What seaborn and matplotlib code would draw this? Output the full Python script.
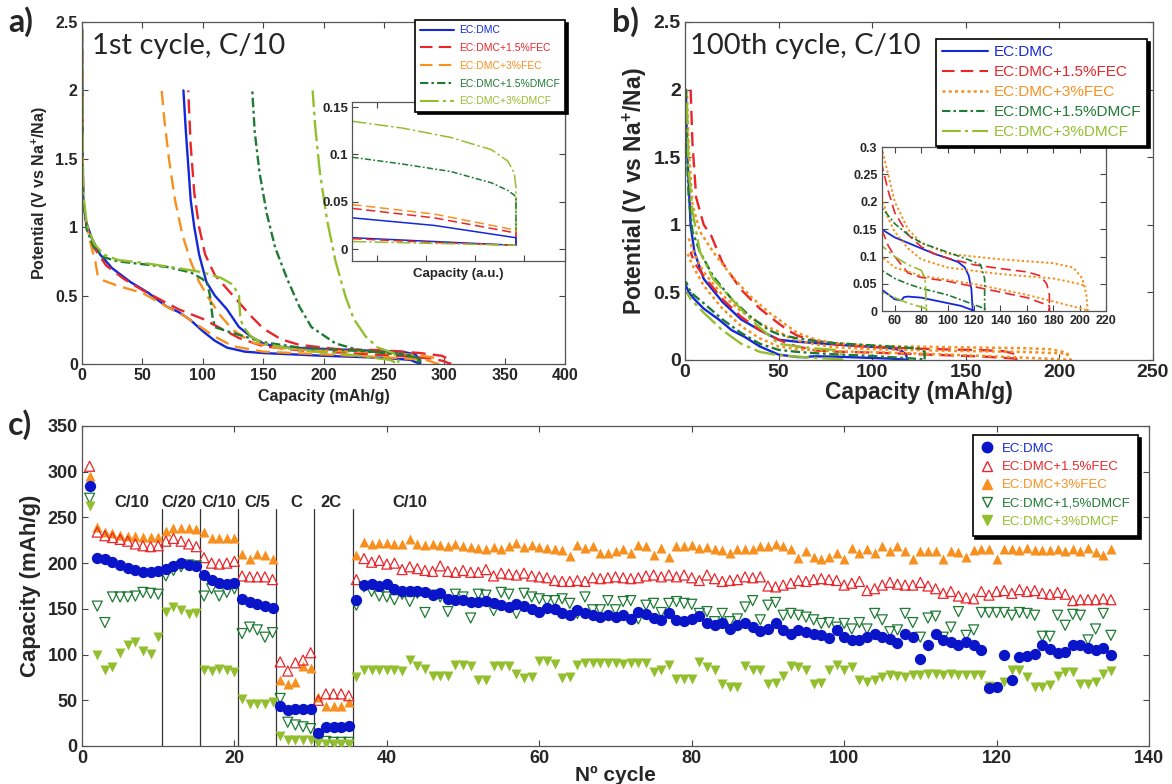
import matplotlib
matplotlib.use("Agg")
import matplotlib.pyplot as plt
from matplotlib import font_manager
from matplotlib.lines import Line2D
import seaborn as sns

sns.set_style("ticks")
installed = {f.name for f in font_manager.fontManager.ttflist}
narrow = "Liberation Sans Narrow" if "Liberation Sans Narrow" in installed else "Liberation Sans"
plt.rcParams["font.family"] = ["Liberation Sans", "DejaVu Sans"]
plt.rcParams["mathtext.fontset"] = "custom"
plt.rcParams["mathtext.bf"] = "Liberation Sans:bold"
plt.rcParams["mathtext.rm"] = "Liberation Sans"

# ---- labels / colours
names = ["EC:DMC", "EC:DMC+1.5%FEC", "EC:DMC+3%FEC", "EC:DMC+1.5%DMCF", "EC:DMC+3%DMCF"]
names_c = ["EC:DMC", "EC:DMC+1.5%FEC", "EC:DMC+3%FEC", "EC:DMC+1,5%DMCF", "EC:DMC+3%DMCF"]
colors = ["#1428d8", "#e8262b", "#f7901e", "#1f7a34", "#93bf2f"]

# ---- panel a: 1st cycle (capacity mAh/g, potential V)
a_dmc_cap = [0, 0.5, 1, 3, 8, 15, 25, 40, 55, 70, 80, 90, 100, 110, 120, 135, 150, 200, 250, 272, 280,
             280, 276, 265, 230, 200, 170, 160, 150, 140, 130, 120, 110, 103, 97, 93, 90, 88, 86, 84]
a_dmc_v = [2.45, 1.6, 1.2, 1.05, 0.92, 0.8, 0.7, 0.6, 0.52, 0.42, 0.38, 0.32, 0.24, 0.17, 0.12, 0.09, 0.08, 0.06, 0.045, 0.03, 0.0,
           0.03, 0.07, 0.09, 0.1, 0.11, 0.12, 0.13, 0.15, 0.2, 0.27, 0.4, 0.5, 0.6, 0.8, 1.0, 1.2, 1.45, 1.7, 2.0]
a_fec15_cap = [0, 0.5, 1, 4, 10, 20, 35, 50, 65, 80, 100, 115, 130, 150, 180, 220, 260, 290, 300, 305,
               305, 298, 280, 250, 210, 180, 165, 150, 140, 130, 120, 110, 102, 97, 93, 90, 88]
a_fec15_v = [2.45, 1.6, 1.2, 1.0, 0.85, 0.72, 0.62, 0.54, 0.47, 0.4, 0.33, 0.26, 0.19, 0.13, 0.1, 0.08, 0.06, 0.04, 0.02, 0.0,
             0.03, 0.06, 0.08, 0.1, 0.11, 0.14, 0.18, 0.26, 0.35, 0.45, 0.55, 0.65, 0.8, 1.0, 1.25, 1.6, 2.0]
a_fec3_cap = [0, 0.5, 1, 4, 8, 11, 13, 18, 30, 50, 70, 85, 100, 110, 125, 150, 200, 250, 285, 295,
              295, 290, 270, 230, 190, 160, 140, 125, 115, 105, 97, 90, 83, 77, 72, 68, 66]
a_fec3_v = [2.45, 1.6, 1.2, 1.0, 0.85, 0.75, 0.65, 0.61, 0.57, 0.52, 0.42, 0.35, 0.26, 0.2, 0.13, 0.09, 0.07, 0.05, 0.03, 0.0,
            0.02, 0.05, 0.07, 0.09, 0.1, 0.12, 0.16, 0.25, 0.35, 0.48, 0.6, 0.75, 0.95, 1.2, 1.5, 1.8, 2.0]
a_dmcf15_cap = [0, 0.5, 1, 4, 10, 18, 30, 50, 70, 90, 100, 104, 106, 108, 110, 120, 135, 150, 180, 220, 260, 275, 280,
                280, 275, 250, 230, 210, 190, 180, 170, 160, 153, 147, 143, 141]
a_dmcf15_v = [2.45, 1.5, 1.2, 0.98, 0.85, 0.78, 0.75, 0.73, 0.71, 0.67, 0.62, 0.58, 0.5, 0.35, 0.27, 0.24, 0.2, 0.16, 0.12, 0.1, 0.08, 0.05, 0.0,
              0.03, 0.06, 0.08, 0.1, 0.15, 0.27, 0.42, 0.62, 0.85, 1.1, 1.4, 1.7, 2.0]
a_dmcf3_cap = [0, 0.5, 1, 4, 10, 18, 30, 50, 80, 100, 115, 125, 130, 131, 133, 140, 150, 180, 220, 255, 262,
               262, 258, 245, 235, 225, 218, 210, 203, 197, 193, 191]
a_dmcf3_v = [2.45, 1.6, 1.25, 1.02, 0.88, 0.8, 0.76, 0.74, 0.7, 0.67, 0.63, 0.58, 0.5, 0.35, 0.28, 0.2, 0.15, 0.1, 0.07, 0.03, 0.0,
             0.03, 0.08, 0.12, 0.2, 0.33, 0.5, 0.75, 1.05, 1.4, 1.75, 2.0]

# inset of panel a (arbitrary capacity units)
ia_x = [0, 0.3, 0.6, 0.85, 0.95, 0.99, 1.0, 1.0]
ia_dmcf3 = [0.135, 0.128, 0.118, 0.105, 0.093, 0.08, 0.065, 0.005]
ia_dmcf15 = [0.097, 0.09, 0.082, 0.07, 0.062, 0.057, 0.053, 0.005]
ia_x2 = [0, 0.5, 1.0, 1.0]
ia_fec3 = [0.047, 0.037, 0.02, 0.005]
ia_fec15 = [0.043, 0.033, 0.017, 0.005]
ia_dmc = [0.033, 0.025, 0.012, 0.004]
ia_low_x = [0, 0.5, 1.0]
ia_low_dmc = [0.012, 0.008, 0.004]
ia_low_fec = [0.011, 0.007, 0.004]
ia_low_dmcf = [0.008, 0.006, 0.004]

# ---- panel b: 100th cycle
b_dmc_cap = [0.5, 1, 2, 3, 5, 10, 20, 30, 40, 50, 60, 70, 80, 90, 100, 108, 113, 116, 118, 119,
             119, 110, 100, 90, 80, 70, 67, 65, 60, 50, 40, 32, 25, 18, 10, 5, 2, 0.5]
b_dmc_v = [2.0, 1.6, 1.3, 1.0, 0.8, 0.6, 0.43, 0.3, 0.22, 0.15, 0.135, 0.125, 0.115, 0.105, 0.097, 0.09, 0.08, 0.065, 0.04, 0.0,
           0.002, 0.01, 0.015, 0.02, 0.025, 0.027, 0.026, 0.02, 0.022, 0.04, 0.1, 0.17, 0.22, 0.3, 0.38, 0.45, 0.5, 0.55]
b_fec15_cap = [3, 4, 6, 10, 14, 20, 30, 40, 50, 55, 60, 70, 80, 90, 100, 120, 140, 160, 170, 175, 177, 177,
               177, 160, 130, 100, 80, 70, 60, 55, 50, 40, 30, 20, 10, 5, 3]
b_fec15_v = [2.0, 1.6, 1.2, 1.0, 0.92, 0.72, 0.52, 0.38, 0.27, 0.22, 0.18, 0.14, 0.118, 0.105, 0.097, 0.085, 0.078, 0.072, 0.065, 0.05, 0.03, 0.0,
             0.01, 0.025, 0.04, 0.055, 0.062, 0.07, 0.1, 0.12, 0.15, 0.22, 0.32, 0.45, 0.62, 0.72, 0.8]
b_fec3_cap = [1, 2, 4, 8, 15, 25, 35, 45, 52, 60, 70, 80, 100, 140, 180, 195, 202, 205, 206,
              206, 180, 160, 120, 80, 60, 50, 40, 30, 20, 10, 4, 1]
b_fec3_v = [2.0, 1.55, 1.15, 0.95, 0.8, 0.62, 0.47, 0.35, 0.28, 0.2, 0.15, 0.125, 0.105, 0.095, 0.088, 0.08, 0.06, 0.03, 0.0,
            0.002, 0.018, 0.03, 0.05, 0.065, 0.08, 0.1, 0.16, 0.25, 0.38, 0.55, 0.7, 0.8]
b_fec3_mid_cap = [2, 5, 10, 20, 30, 40, 50, 55, 60, 70, 80, 100, 140, 180, 200, 205]
b_fec3_mid_v = [0.9, 0.78, 0.65, 0.48, 0.36, 0.27, 0.21, 0.17, 0.145, 0.115, 0.095, 0.08, 0.068, 0.06, 0.05, 0.045]
b_dmcf15_cap = [0.5, 1, 2, 4, 8, 15, 25, 35, 45, 50, 60, 70, 80, 100, 115, 125, 128, 128,
                128, 100, 80, 70, 60, 50, 40, 30, 20, 10, 3, 0.5]
b_dmcf15_v = [2.0, 1.5, 1.2, 0.95, 0.8, 0.62, 0.45, 0.32, 0.22, 0.19, 0.16, 0.14, 0.125, 0.108, 0.095, 0.085, 0.06, 0.0,
              0.005, 0.03, 0.042, 0.05, 0.06, 0.075, 0.12, 0.2, 0.3, 0.42, 0.5, 0.58]
b_dmcf3_cap = [1, 2, 4, 8, 15, 25, 35, 45, 50, 60, 70, 80, 83, 84,
               84, 70, 60, 50, 40, 30, 20, 10, 3, 1]
b_dmcf3_v = [1.9, 1.4, 1.1, 0.8, 0.6, 0.45, 0.3, 0.18, 0.12, 0.1, 0.085, 0.075, 0.06, 0.0,
             0.005, 0.015, 0.025, 0.035, 0.06, 0.12, 0.22, 0.35, 0.45, 0.5]

# ---- panel c: capacity vs cycle number
cycles = list(range(1, 136))
cap_dmc = [284,
           206, 205, 201, 198, 195, 192, 190, 190, 191,
           194, 197, 200, 198, 197,
           187, 182, 178, 177, 178,
           161, 158, 155, 153, 151,
           44, 39, 40, 40, 40,
           14, 21, 21, 21, 22,
           160, 176, 177, 175, 177, 172, 170, 170, 169, 168, 165, 167, 161, 160, 160, 158, 157, 159, 156, 154,
           152, 155, 153, 150, 147, 151, 150, 145, 143, 149, 145,
           143, 141, 143, 141, 143, 139, 147, 144, 140, 138, 145, 138, 137, 139, 142, 134, 132, 135, 128, 132,
           134, 130, 126, 128, 134, 127, 123, 127, 125, 123, 121, 118, 127,
           119, 116, 116, 119, 123, 119, 117, 113, 123, 119, 95, 110, 123, 116, 114, 111, 114, 110, 105, 63,
           65, 99, 72, 97, 98, 101, 110, 106, 102, 103, 110, 111, 107, 105, 107, 100]
cap_fec15 = [306,
             234, 230, 228, 226, 224, 221, 219, 218, 219,
             224, 227, 224, 221, 218,
             206, 200, 199, 200, 202,
             186, 185, 185, 185, 182,
             92, 82, 91, 94, 102,
             50, 57, 57, 57, 55,
             182, 205, 201, 203, 199, 200, 193, 196, 194, 192, 191, 197, 191, 190, 192, 190, 190, 193, 186, 189,
             188, 187, 189, 186, 185, 184, 181, 180, 180, 181, 180,
             184, 183, 184, 185, 184, 183, 184, 186, 187, 185, 187, 185, 187, 184, 181, 187, 183, 180, 181, 182,
             185, 184, 185, 175, 174, 176, 178, 181, 180, 182, 183, 182, 181,
             176, 178, 180, 170, 172, 176, 179, 177, 176, 176, 179, 175, 172, 167, 169, 164, 162, 161, 169, 165,
             169, 170, 167, 171, 169, 170, 167, 166, 168, 166, 159, 160, 160, 160, 161, 160]
cap_fec3 = [295,
            239, 234, 233, 231, 230, 230, 229, 229, 229,
            235, 238, 238, 238, 237,
            234, 227, 228, 228, 228,
            210, 205, 210, 209, 204,
            72, 68, 70, 87, 85,
            54, 44, 44, 44, 48,
            209, 223, 221, 222, 222, 221, 221, 226, 221, 220, 221, 220, 219, 221, 219, 218, 217, 216, 218, 215,
            219, 222, 218, 220, 218, 217, 215, 214, 208, 220, 217,
            219, 211, 211, 213, 216, 211, 220, 219, 209, 217, 207, 219, 219, 220, 217, 218, 216, 214, 211, 215,
            215, 216, 219, 219, 221, 219, 216, 206, 213, 207, 204,
            207, 211, 205, 217, 211, 216, 211, 219, 213, 219, 213, 204, 213, 213, 213, 204, 213, 212, 207, 214,
            215, 216, 205, 216, 216, 214, 217, 214, 214, 214, 215, 213, 216, 213, 217, 212, 209, 215]
cap_dmcf15 = [271,
              153, 135, 163, 163, 163, 164, 168, 167, 166,
              186, 192, 196, 198, 197,
              164, 172, 164, 168, 172,
              123, 130, 127, 119, 124,
              52, 26, 23, 21, 19,
              5, 5, 4, 4, 4,
              154, 174, 169, 164, 163, 160, 166, 158, 167, 146, 165, 163, 147, 166, 163, 140, 166, 165, 148, 168,
              166, 145, 167, 163, 161, 159, 159, 161, 156, 145, 163,
              149, 149, 159, 149, 158, 159, 139, 154, 156, 146, 156, 158, 156, 155, 145, 147, 136, 145, 136, 139,
              152, 159, 138, 154, 157, 143, 145, 143, 141, 138, 134, 135, 130,
              134, 128, 135, 128, 145, 138, 125, 127, 145, 135, 119, 140, 142, 119, 130, 147, 121, 127, 146, 146,
              146, 146, 143, 146, 145, 143, 120, 120, 143, 132, 144, 143, 116, 128, 145, 121]
cap_dmcf3 = [262,
             99, 83, 86, 102, 111, 114, 104, 101, 119,
             147, 152, 149, 144, 145,
             83, 82, 84, 83, 81,
             51, 46, 46, 46, 48,
             11, 7, 7, 7, 7,
             3, 2, 2, 2, 2,
             75, 83, 83, 83, 83, 83, 82, 94, 87, 84, 77, 77, 77, 89, 89, 88, 72, 72, 87, 88,
             87, 79, 74, 75, 93, 93, 90, 74, 76, 89, 91,
             91, 91, 91, 91, 90, 91, 91, 91, 81, 83, 89, 73, 73, 73, 92, 86, 83, 68, 65, 65,
             88, 83, 83, 68, 69, 77, 88, 86, 83, 68, 69, 83, 89,
             83, 86, 72, 70, 72, 75, 78, 77, 76, 78, 78, 79, 79, 78, 79, 78, 78, 78, 78, 66,
             65, 70, 83, 83, 75, 65, 65, 67, 77, 81, 81, 68, 68, 70, 79, 82]
rate_bounds = [10.5, 15.5, 20.5, 25.5, 30.5, 35.5]
rate_labels = ["C/10", "C/20", "C/10", "C/5", "C", "2C", "C/10"]
rate_label_x = [6.6, 12.7, 17.9, 23.0, 28.1, 32.7, 43.0]

W, H = 1172, 784
fig = plt.figure(figsize=(W / 100, H / 100), dpi=100)


def box(x0, y0, x1, y1):
    # pixel box (top-left origin) -> figure fraction
    return [x0 / W, 1 - y1 / H, (x1 - x0) / W, (y1 - y0) / H]


def style_axes(ax, size, fam=None):
    ax.tick_params(direction="in", top=True, right=True, length=4, width=0.8, color="#444444",
                   labelsize=size, pad=3)
    for s in ax.spines.values():
        s.set_color("#555555")
        s.set_linewidth(0.9)
    for lab in ax.get_xticklabels() + ax.get_yticklabels():
        lab.set_fontweight("bold")
        lab.set_fontfamily(fam or narrow)


def draw(ax, xs, ys, color, ls, lw=1.5):
    sns.lineplot(x=xs, y=ys, sort=False, estimator=None, color=color, linestyle=ls,
                 linewidth=lw, ax=ax, legend=False)


dash = (0, (6, 3))
dot = (0, (1.2, 1.3))
dashdot = (0, (4, 1.5, 1.2, 1.5))
longdashdot = (0, (9, 2, 1.5, 2))

# ---------------- panel a
ax_a = fig.add_axes(box(82, 22, 565, 364))
draw(ax_a, a_dmc_cap, a_dmc_v, colors[0], "-", 1.7)
draw(ax_a, a_fec15_cap, a_fec15_v, colors[1], dash, 1.7)
draw(ax_a, a_fec3_cap, a_fec3_v, colors[2], dash, 1.7)
draw(ax_a, a_dmcf15_cap, a_dmcf15_v, colors[3], dashdot, 1.7)
draw(ax_a, a_dmcf3_cap, a_dmcf3_v, colors[4], longdashdot, 1.7)
ax_a.set_xlim(0, 400)
ax_a.set_ylim(0, 2.5)
ax_a.set_xticks(range(0, 401, 50))
ax_a.set_yticks([0, 0.5, 1, 1.5, 2, 2.5])
ax_a.set_yticklabels(["0", "0.5", "1", "1.5", "2", "2.5"])
style_axes(ax_a, 11.5)
ax_a.set_xlabel("Capacity (mAh/g)", fontsize=11.5, fontweight="bold", labelpad=4)
ax_a.set_ylabel(r"Potential (V vs Na$^{\mathbf{+}}$/Na)", fontsize=11.5, fontweight="bold", labelpad=4)
ax_a.text(0.02, 0.93, "1st cycle, C/10", transform=ax_a.transAxes, fontsize=21, family="Lato",
          va="center", ha="left")

ia = ax_a.inset_axes([0.56, 0.30, 0.44, 0.465])
draw(ia, ia_x, ia_dmcf3, colors[4], longdashdot, 1.1)
draw(ia, ia_x, ia_dmcf15, colors[3], dashdot, 1.1)
draw(ia, ia_x2, ia_fec3, colors[2], dash, 1.1)
draw(ia, ia_x2, ia_fec15, colors[1], dash, 1.1)
draw(ia, ia_x2, ia_dmc, colors[0], "-", 1.1)
draw(ia, ia_low_x, ia_low_dmc, colors[0], "-", 1.1)
draw(ia, ia_low_x, ia_low_fec, colors[1], dash, 1.1)
draw(ia, ia_low_x, ia_low_dmcf, colors[4], longdashdot, 1.1)
ia.set_xlim(0, 1.3)
ia.set_ylim(-0.013, 0.155)
ia.set_xticks([0.15, 0.45, 0.75, 1.05])
ia.set_xticklabels([])
ia.set_yticks([0, 0.05, 0.1, 0.15])
ia.set_yticklabels(["0", "0.05", "0.1", "0.15"])
style_axes(ia, 9.5)
ia.set_xlabel("Capacity (a.u.)", fontsize=9.5, fontweight="bold", labelpad=2)

handles_ab = [Line2D([], [], color=colors[0], ls="-", lw=1.5),
              Line2D([], [], color=colors[1], ls=dash, lw=1.5),
              Line2D([], [], color=colors[2], ls=dash, lw=1.5),
              Line2D([], [], color=colors[3], ls=dashdot, lw=1.5),
              Line2D([], [], color=colors[4], ls=longdashdot, lw=1.5)]


def legend(ax, handles, labels, anchor, size, **kw):
    leg = ax.legend(handles, labels, loc="upper right", bbox_to_anchor=anchor, fontsize=size,
                    frameon=True, fancybox=False, shadow={"color": "black", "alpha": 1.0},
                    borderaxespad=0, **kw)
    leg.get_frame().set_edgecolor("black")
    leg.get_frame().set_linewidth(1.2)
    leg.set_zorder(20)
    for t, c in zip(leg.get_texts(), colors):
        t.set_color(c)
    return leg


legend(ax_a, handles_ab, names, (1.0, 1.006), 7.5, handlelength=3.2, labelspacing=0.75,
       handletextpad=0.5, borderpad=0.5)

# ---------------- panel b
ax_b = fig.add_axes(box(685, 22, 1153, 360))
handles_b = list(handles_ab)
handles_b[2] = Line2D([], [], color=colors[2], ls=dot, lw=1.8)
draw(ax_b, b_dmc_cap, b_dmc_v, colors[0], "-", 1.7)
draw(ax_b, b_fec15_cap, b_fec15_v, colors[1], dash, 1.7)
draw(ax_b, b_fec3_cap, b_fec3_v, colors[2], dot, 1.8)
draw(ax_b, b_fec3_mid_cap, b_fec3_mid_v, colors[2], dot, 1.8)
draw(ax_b, b_dmcf15_cap, b_dmcf15_v, colors[3], dashdot, 1.7)
draw(ax_b, b_dmcf3_cap, b_dmcf3_v, colors[4], longdashdot, 1.7)
ax_b.set_xlim(0, 250)
ax_b.set_ylim(0, 2.5)
ax_b.set_xticks(range(0, 251, 50))
ax_b.set_yticks([0, 0.5, 1, 1.5, 2, 2.5])
ax_b.set_yticklabels(["0", "0.5", "1", "1.5", "2", "2.5"])
style_axes(ax_b, 14)
ax_b.set_xlabel("Capacity (mAh/g)", fontsize=16.5, fontweight="bold", labelpad=0)
ax_b.set_ylabel(r"Potential (V vs Na$^{\mathbf{+}}$/Na)", fontsize=16.5, fontweight="bold", labelpad=3)
ax_b.text(0.01, 0.93, "100th cycle, C/10", transform=ax_b.transAxes, fontsize=21, family="Lato",
          va="center", ha="left")

ib = ax_b.inset_axes([0.42, 0.144, 0.48, 0.486])
draw(ib, b_dmc_cap, b_dmc_v, colors[0], "-", 1.3)
draw(ib, b_fec15_cap, b_fec15_v, colors[1], dash, 1.2)
draw(ib, b_fec3_cap, b_fec3_v, colors[2], dot, 1.4)
draw(ib, b_fec3_mid_cap, b_fec3_mid_v, colors[2], dot, 1.4)
draw(ib, b_dmcf15_cap, b_dmcf15_v, colors[3], dashdot, 1.2)
draw(ib, b_dmcf3_cap, b_dmcf3_v, colors[4], longdashdot, 1.2)
ib.set_xlim(50, 220)
ib.set_ylim(0, 0.3)
ib.set_xticks(range(60, 221, 20))
ib.set_yticks([0, 0.05, 0.1, 0.15, 0.2, 0.25, 0.3])
ib.set_yticklabels(["0", "0.05", "0.1", "0.15", "0.2", "0.25", "0.3"])
style_axes(ib, 9)

legend(ax_b, handles_b, names, (0.988, 0.95), 11, handlelength=3.0, labelspacing=0.4,
       handletextpad=0.4, borderpad=0.4)

# ---------------- panel c
ax_c = fig.add_axes(box(82, 426, 1149, 746))
for xb in rate_bounds:
    ax_c.plot([xb, xb], [0, 259], color="#333333", lw=0.9, zorder=1)
for lab, xl in zip(rate_labels, rate_label_x):
    ax_c.text(xl, 266, lab, ha="center", va="center", fontsize=12, fontweight="bold", family=narrow)

sns.scatterplot(x=cycles, y=cap_fec3, marker="^", color=colors[2], s=52, linewidth=0, ax=ax_c,
                legend=False, zorder=3)
sns.scatterplot(x=cycles, y=cap_fec15, marker="^", color=colors[1], facecolor="none",
                edgecolor=colors[1], s=52, linewidth=0.9, ax=ax_c, legend=False, zorder=3)
sns.scatterplot(x=cycles, y=cap_dmcf15, marker="v", color=colors[3], facecolor="none",
                edgecolor=colors[3], s=52, linewidth=0.9, ax=ax_c, legend=False, zorder=3)
sns.scatterplot(x=cycles, y=cap_dmcf3, marker="v", color=colors[4], s=52, linewidth=0, ax=ax_c,
                legend=False, zorder=3)
sns.scatterplot(x=cycles, y=cap_dmc, marker="o", color="#0a14c8", s=66, linewidth=0, ax=ax_c,
                legend=False, zorder=4)
ax_c.set_xlim(0, 140)
ax_c.set_ylim(0, 350)
ax_c.set_xticks(range(0, 141, 20))
ax_c.set_yticks(range(0, 351, 50))
style_axes(ax_c, 13)
ax_c.set_xlabel("Nº cycle", fontsize=15, fontweight="bold", labelpad=-1)
ax_c.set_ylabel("Capacity (mAh/g)", fontsize=16, fontweight="bold", labelpad=5)

handles_c = [Line2D([], [], marker="o", ls="none", color="#0a14c8", markersize=7.5),
             Line2D([], [], marker="^", ls="none", markerfacecolor="none", markeredgecolor=colors[1], markersize=7.5),
             Line2D([], [], marker="^", ls="none", color=colors[2], markersize=7.5),
             Line2D([], [], marker="v", ls="none", markerfacecolor="none", markeredgecolor=colors[3], markersize=7.5),
             Line2D([], [], marker="v", ls="none", color=colors[4], markersize=7.5)]
legend(ax_c, handles_c, names_c, (0.99, 0.972), 9.5, handlelength=1.0, labelspacing=0.45,
       handletextpad=0.6, borderpad=0.6)

for lab, x, y in [("a)", 8, 22), ("b)", 612, 22), ("c)", 8, 425)]:
    fig.text(x / W, 1 - y / H, lab, fontsize=23, fontweight="bold", family="Lato", va="center", ha="left")

fig.savefig("out.png", dpi=100)
